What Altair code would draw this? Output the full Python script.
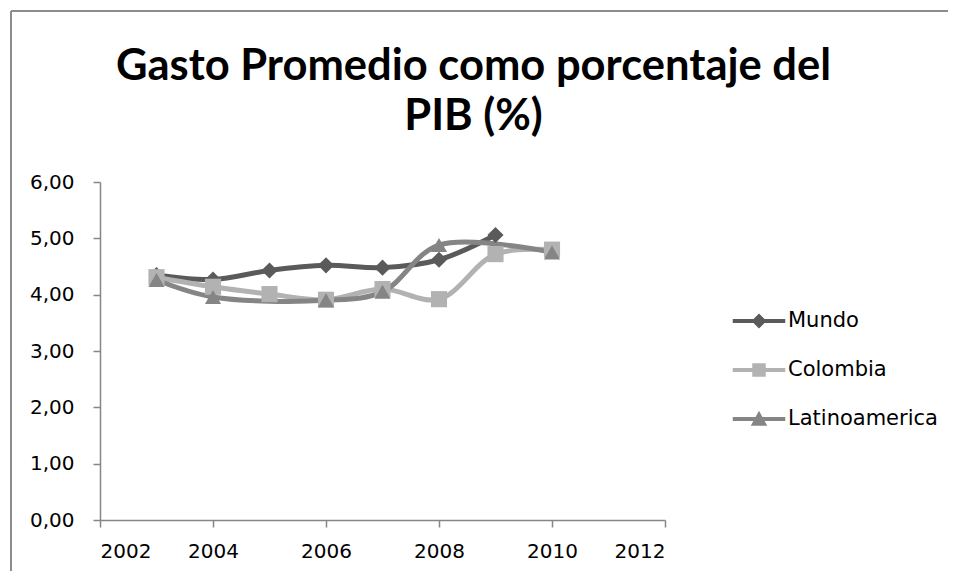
import altair as alt
import pandas as pd

years = [2003, 2004, 2005, 2006, 2007, 2008, 2009, 2010]
mundo = [4.35, 4.27, 4.43, 4.52, 4.48, 4.62, 5.06, None]
colombia = [4.31, 4.14, 4.01, 3.91, 4.10, 3.92, 4.72, 4.80]
latinoamerica = [4.26, 3.96, None, 3.90, 4.05, 4.88, None, 4.75]

series = ["Mundo", "Colombia", "Latinoamerica"]
colors = ["#5a5a5a", "#b2b2b2", "#858585"]
shapes = ["diamond", "square", "triangle-up"]
y_ticks = [0, 1, 2, 3, 4, 5, 6]
x_ticks = [2002, 2004, 2006, 2008, 2010, 2012]
title_lines = ["Gasto Promedio como porcentaje del", "PIB (%)"]

rows = []
for name, vals in zip(series, [mundo, colombia, latinoamerica]):
    for yr, v in zip(years, vals):
        if v is not None:
            rows.append({"Año": yr, "Valor": v, "Serie": name})
df = pd.DataFrame(rows)

W, H = 565, 338
FONT = "DejaVu Sans"

bar = "M-1.75,-0.13L1.75,-0.13L1.75,0.13L-1.75,0.13Z "
legend_paths = [
    bar + "M0,-0.5L0.5,0L0,0.5L-0.5,0Z",
    bar + "M-0.45,-0.45L0.45,-0.45L0.45,0.45L-0.45,0.45Z",
    bar + "M0,-0.55L0.55,0.45L-0.55,0.45Z",
]

x_enc = alt.X("Año:Q", scale=alt.Scale(domain=[2002, 2012], nice=False, zero=False),
              axis=alt.Axis(values=x_ticks, format="d", title=None, labelPadding=14))
y_enc = alt.Y("Valor:Q", scale=alt.Scale(domain=[0, 6], nice=False, zero=True),
              axis=alt.Axis(values=y_ticks, title=None, labelPadding=19,
                            labelExpr="replace(format(datum.value, '.2f'), '.', ',')"))

base = alt.Chart(df)
lines = base.mark_line(interpolate="catmull-rom", strokeWidth=5).encode(
    x=x_enc, y=y_enc,
    color=alt.Color("Serie:N", scale=alt.Scale(domain=series, range=colors), legend=None),
    order=alt.Order("Año:Q"),
)
points = base.mark_point(filled=True, size=260, opacity=1).encode(
    x=x_enc, y=y_enc,
    color=alt.Color("Serie:N", scale=alt.Scale(domain=series, range=colors), legend=None),
    shape=alt.Shape("Serie:N", scale=alt.Scale(domain=series, range=shapes), legend=None),
)

legend = alt.Legend(
    title=None, orient="none", legendX=644, legendY=124,
    symbolSize=900, labelOffset=14, rowPadding=24, symbolOpacity=1,
    symbolStrokeWidth=0, labelFont=FONT, labelFontSize=21, labelColor="#000000",
)
legend_layer = base.transform_filter("false").mark_point(filled=True, opacity=1).encode(
    x=x_enc, y=y_enc,
    color=alt.Color("Serie:N", scale=alt.Scale(domain=series, range=colors), legend=legend),
    shape=alt.Shape("Serie:N", scale=alt.Scale(domain=series, range=legend_paths), legend=legend),
)

frame_left = alt.Chart(df).mark_rule(color="#8c8c8c", strokeWidth=1.5).encode(
    x=alt.value(-89), y=alt.value(-171), y2=alt.value(H + 80))
frame_top = alt.Chart(df).mark_rule(color="#8c8c8c", strokeWidth=1.5).encode(
    x=alt.value(-89), x2=alt.value(W + 400), y=alt.value(-171))

chart = alt.layer(frame_left, frame_top, lines, points, legend_layer).resolve_scale(
    shape="independent", color="independent"
).properties(
    width=W, height=H,
    autosize=alt.AutoSizeParams(type="none"),
    padding={"left": 92, "top": 174, "right": 283, "bottom": 51},
    title=alt.TitleParams(
        text=title_lines, anchor="middle", frame="group", dx=91, offset=-129,
        font="Lato", fontSize=43.5, fontWeight="bold", color="#000000", lineHeight=50,
    ),
).configure_view(stroke=None).configure_axis(
    grid=False, domainColor="#868686", tickColor="#868686", domainWidth=1.5,
    tickWidth=1.5, tickSize=7, labelFont=FONT, labelFontSize=20, labelColor="#000000",
)

chart.save("out.html", embed_options={"renderer": "svg", "actions": False})
